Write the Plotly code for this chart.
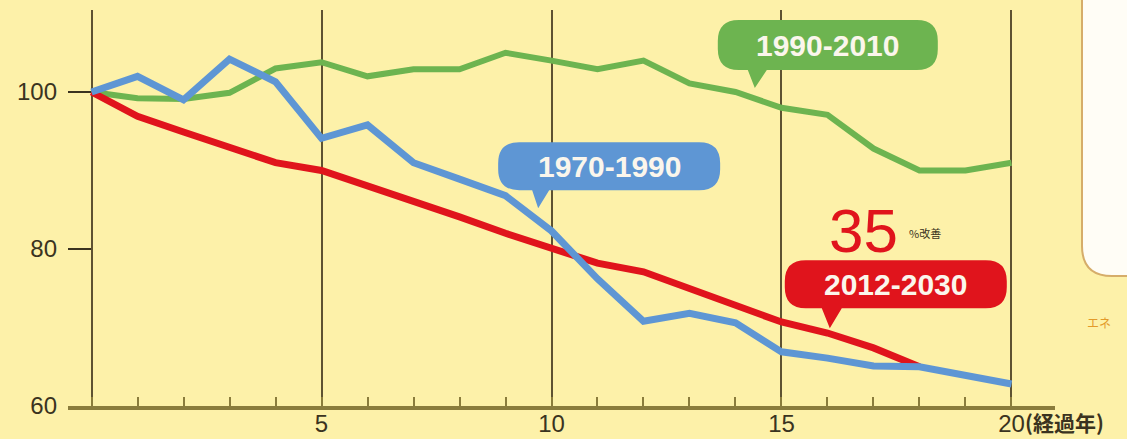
import plotly.graph_objects as go

# Energy-efficiency index (start year = 100) over elapsed years
years = list(range(21))
blue_1970_1990 = [100, 102.0, 99.0, 104.2, 101.3, 94.1, 95.8, 91.0, 88.9, 86.8,
                  82.3, 76.2, 70.8, 71.8, 70.6, 66.9, 66.1, 65.1, 65.0, 63.8, 62.8]
green_1990_2010 = [100, 99.2, 99.1, 99.9, 103.0, 103.8, 102.0, 102.9, 102.9, 105.0,
                   104.0, 102.9, 104.0, 101.1, 100.0, 98.0, 97.1, 92.8, 90.0, 90.0, 91.0]
red_years = list(range(19))
red_2012_2030 = [100, 96.9, 94.9, 92.9, 91.0, 90.0, 88.1, 86.1, 84.1, 82.0,
                 80.1, 78.2, 77.1, 74.9, 72.7, 70.7, 69.3, 67.4, 65.0]

series_names = ["1970-1990", "1990-2010", "2012-2030"]
y_ticks = [60, 80, 100]
x_major = [0, 5, 10, 15, 20]
x_major_text = ["", "5", "10", "15", "20"]
improvement = round(100 - red_2012_2030[-1])

BG = "#fdf1a9"
GREEN = "#6db450"
BLUE = "#5e96d4"
RED = "#e0141c"
INK = "#3a3320"
AXIS = "#8a7c3c"
GRID = "#5e5232"
FONT = "Liberation Sans, Arial, sans-serif"

fig = go.Figure()
fig.add_trace(go.Scatter(x=years, y=green_1990_2010, mode="lines",
                         line=dict(color=GREEN, width=6), name=series_names[1]))
fig.add_trace(go.Scatter(x=red_years, y=red_2012_2030, mode="lines",
                         line=dict(color=RED, width=7), name=series_names[2]))
fig.add_trace(go.Scatter(x=years, y=blue_1970_1990, mode="lines",
                         line=dict(color=BLUE, width=7), name=series_names[0]))


def bubble(left, right, bottom, top, base0, base1, r=21):
    """Rounded callout box with a tail; geometry in pixels relative to the tail tip."""
    return (f"M {left + r},{top} L {right - r},{top} Q {right},{top} {right},{top - r} "
            f"L {right},{bottom + r} Q {right},{bottom} {right - r},{bottom} "
            f"L {base1},{bottom} L 0,0 L {base0},{bottom} "
            f"L {left + r},{bottom} Q {left},{bottom} {left},{bottom + r} "
            f"L {left},{top - r} Q {left},{top} {left + r},{top} Z")


callouts = [
    # (name, color, tip x, tip y, left, right, bottom, top, tail base0, base1)
    (series_names[1], GREEN, 14.42, 100.5, -37, 183, 18, 68, -7, 12),
    (series_names[0], BLUE, 9.71, 85.2, -40, 182, 18, 66, -6, 11),
    (series_names[2], RED, 16.05, 69.9, -45, 177, 20, 68, -8, 12),
]
for name, color, tx, ty, l, rr, b, t, b0, b1 in callouts:
    fig.add_shape(type="path", xref="x", yref="y", xsizemode="pixel", ysizemode="pixel",
                  xanchor=tx, yanchor=ty, path=bubble(l, rr, b, t, b0, b1),
                  fillcolor=color, line=dict(width=0), layer="above")
    fig.add_annotation(x=tx, y=ty, xref="x", yref="y", text=f"<b>{name}</b>",
                       showarrow=False, xshift=(l + rr) / 2, yshift=(b + t) / 2,
                       font=dict(family=FONT, size=30, color="#fbf6ec"))

# "35 %改善" note above the 2012-2030 callout
fig.add_annotation(x=16.79, y=82.4, xref="x", yref="y", text=str(improvement),
                   showarrow=False, font=dict(family=FONT, size=62, color=RED))
fig.add_annotation(x=17.72, y=82.1, xref="x", yref="y", text="%改善", xanchor="left",
                   showarrow=False, font=dict(family="Noto Sans CJK JP", size=11, color=INK))

# unit label after the last x tick
fig.add_annotation(x=20, y=0, xref="x", yref="paper", text="<b>(経過年)</b>", xanchor="left",
                   yanchor="middle", xshift=12, yshift=-16, showarrow=False,
                   font=dict(family="Noto Sans CJK JP", size=21, color=INK))

# side panel at the right edge
fig.add_shape(type="path", xref="paper", yref="paper", xsizemode="pixel", ysizemode="pixel",
              xanchor=1, yanchor=0,
              path="M 57,440 L 27,440 L 27,160 Q 27,130 57,130 L 120,130 L 120,440 Z",
              fillcolor="#fffdf6", line=dict(color="#d6ad6a", width=2), layer="above")
fig.add_annotation(x=1, y=0, xref="paper", yref="paper", xanchor="left", yanchor="middle",
                   xshift=30, yshift=84, text="エネ", showarrow=False,
                   font=dict(family="Noto Sans CJK JP", size=12, color="#e39a2a"))

fig.update_layout(
    width=1127, height=439,
    margin=dict(l=68, r=72, t=10, b=33),
    paper_bgcolor=BG, plot_bgcolor=BG,
    showlegend=False,
    xaxis=dict(range=[-0.511, 20.946], tickvals=x_major, ticktext=x_major_text,
               showgrid=True, gridcolor=GRID, gridwidth=2, zeroline=False,
               showline=True, linecolor=AXIS, linewidth=4,
               ticks="inside", ticklen=9, tickwidth=2, tickcolor=AXIS,
               minor=dict(dtick=1, tick0=0, ticks="inside", ticklen=9, tickwidth=2,
                          tickcolor=AXIS, showgrid=False),
               tickfont=dict(family=FONT, size=24, color=INK), ticklabelstandoff=-7,
               automargin=False, fixedrange=True),
    yaxis=dict(range=[60, 110.45], tickvals=y_ticks, showgrid=False, zeroline=False,
               showline=False, ticks="inside", ticklen=23, tickwidth=2, tickcolor=INK,
               tickfont=dict(family=FONT, size=24, color=INK), ticklabelstandoff=10,
               automargin=False, fixedrange=True),
)

fig.write_html("out.html")
